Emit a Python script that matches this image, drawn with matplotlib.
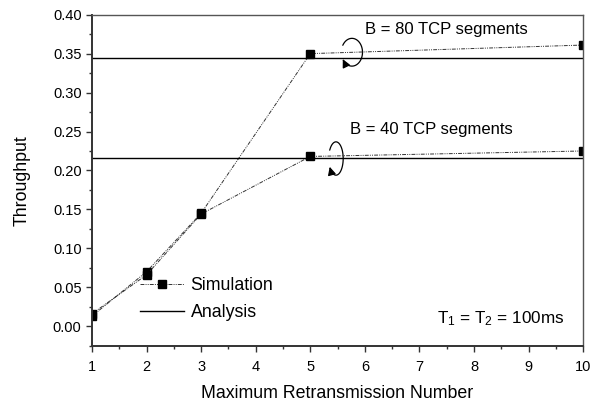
import numpy as np
import matplotlib
matplotlib.use("Agg")
import matplotlib.pyplot as plt
from matplotlib.path import Path
from matplotlib.patches import FancyArrowPatch
from matplotlib.transforms import Affine2D, ScaledTranslation
from matplotlib.ticker import MultipleLocator

plt.rcParams["font.family"] = ["Liberation Sans", "DejaVu Sans"]
plt.rcParams["mathtext.fontset"] = "custom"
plt.rcParams["mathtext.rm"] = "Liberation Sans"
plt.rcParams["mathtext.default"] = "regular"

# Data
retx = [1, 2, 3, 5, 10]
sim_b80 = [0.013, 0.070, 0.145, 0.350, 0.361]
sim_b40 = [0.016, 0.066, 0.144, 0.218, 0.225]
ana_b80 = 0.3445
ana_b40 = 0.2165
xticks = [1, 2, 3, 4, 5, 6, 7, 8, 9, 10]
yticks = [0.00, 0.05, 0.10, 0.15, 0.20, 0.25, 0.30, 0.35, 0.40]

fig = plt.figure(figsize=(5.92, 4.09), dpi=100)
ax = fig.add_axes([0.1554, 0.1548, 0.8296, 0.8093])

sim_style = dict(color="#333333", lw=0.7, dashes=(4, 1.2, 1, 1.2, 1, 1.2),
                 marker="s", markersize=6.2, markerfacecolor="black",
                 markeredgecolor="black")

ax.plot(retx, sim_b80, **sim_style, label="Simulation")
ax.plot(retx, sim_b40, **sim_style)
ax.axhline(ana_b80, color="black", lw=1.0, label="Analysis")
ax.axhline(ana_b40, color="black", lw=1.0)

ax.set_xlim(1, 10)
ax.set_ylim(-0.025, 0.40)
ax.set_xticks(xticks)
ax.set_yticks(yticks)
ax.set_yticklabels([f"{v:.2f}" for v in yticks])
ax.xaxis.set_minor_locator(MultipleLocator(0.5))
ax.yaxis.set_minor_locator(MultipleLocator(0.025))
ax.tick_params(which="major", direction="out", length=4.5, width=1.0,
               labelsize=10.5, color="#333333")
ax.tick_params(axis="x", which="major", pad=6)
ax.tick_params(axis="y", which="major", pad=3)
ax.tick_params(which="minor", direction="out", length=2.5, width=1.0,
               color="#333333")

for side in ("left", "bottom"):
    ax.spines[side].set_linewidth(1.4)
    ax.spines[side].set_color("#333333")
for side in ("top", "right"):
    ax.spines[side].set_linewidth(1.0)
    ax.spines[side].set_color("#555555")

ax.set_xlabel("Maximum Retransmission Number", fontsize=12.8, labelpad=8)
ax.set_ylabel("Throughput", fontsize=12.8, labelpad=16)

ax.text(7.49, 0.381, "B = 80 TCP segments", fontsize=12, ha="center", va="center")
ax.text(7.22, 0.252, "B = 40 TCP segments", fontsize=12, ha="center", va="center")
ax.text(9.65, 0.010, "T$_1$ = T$_2$ = 100ms", fontsize=12.3, ha="right", va="center")


def curl(ax, x, y, dx, dy, a, b, t0=150, t1=-150):
    """Draw a curled arrow around an offset point (offsets/radii in points)."""
    t = np.radians(np.linspace(t0, t1, 60))
    pts = np.column_stack([dx + a * np.cos(t), dy + b * np.sin(t)])
    trans = Affine2D().scale(fig.dpi / 72.0) + ScaledTranslation(x, y, ax.transData)
    arrow = FancyArrowPatch(path=Path(pts), arrowstyle="-|>", mutation_scale=12,
                            lw=0.9, color="black", transform=trans)
    ax.add_patch(arrow)


curl(ax, retx[3], sim_b80[3], 30.0, 1.0, 7.6, 10.0)
curl(ax, retx[3], sim_b40[3], 18.5, -1.5, 5.2, 12.0)

leg = ax.legend(loc="upper left", bbox_to_anchor=(0.0978, 0.207), frameon=False,
                fontsize=12.8, handlelength=2.5, handletextpad=0.35,
                labelspacing=0.58, borderpad=0, borderaxespad=0)

fig.savefig("out.png", dpi=100)
